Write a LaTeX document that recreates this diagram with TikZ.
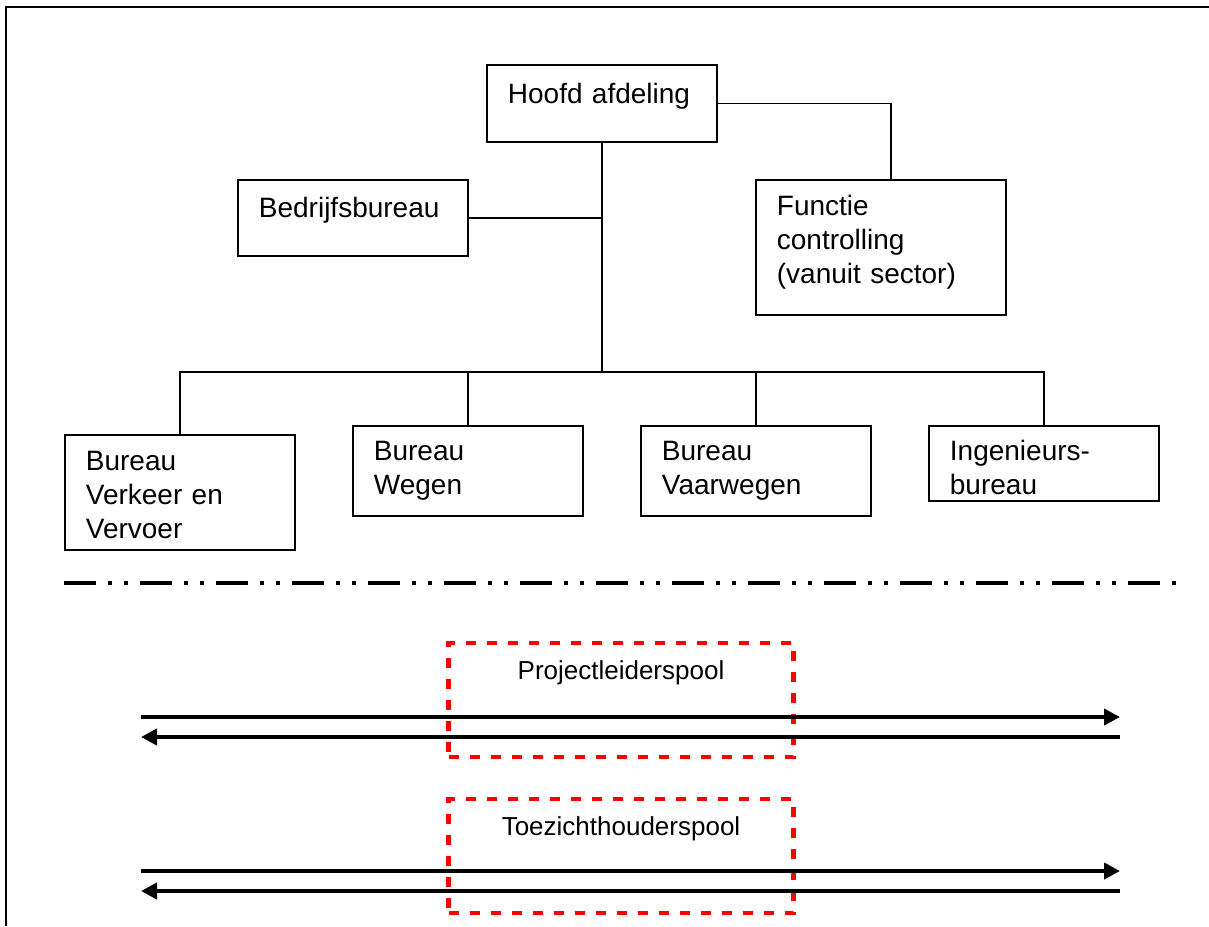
\documentclass[tikz,border=0pt]{standalone}
\usepackage{fontspec}
\setmainfont{Liberation Sans}
\usetikzlibrary{calc}
\usetikzlibrary{arrows.meta}

\begin{document}
\begin{tikzpicture}[x=0.5pt, y=-0.5pt]
\tikzstyle{box_org}=[draw=black, line width=0.9pt, anchor=north west, align=left, text width=94pt, inner xsep=10.5pt, inner ysep=0pt, font=\fontsize{14}{17}\selectfont]
\tikzstyle{box_pool}=[draw=red, line width=2.2pt, dash pattern=on 5pt off 5.5pt, anchor=north, align=center, minimum width=172.5pt, inner ysep=0pt, font=\fontsize{13}{16}\selectfont]
\tikzstyle{line_org}=[line width=0.8pt]
\tikzstyle{line_sep}=[line width=2.2pt, dash pattern=on 16pt off 6pt on 2pt off 6pt on 2pt off 6pt]
\tikzstyle{line_flow}=[line width=2pt, -{Triangle[length=8pt, width=8pt]}]

\useasboundingbox (0,0) rectangle (1209,926);
\draw[line width=1pt] (6,926) -- (6,7) -- (1209,7);

\path (486,64) node[box_org, text height=19.5pt, text depth=19pt](hoofd) {Hoofd afdeling}
	  (237,179) node[box_org, text height=19pt, text depth=19pt](bedrijf) {Bedrijfsbureau}
	  (755,179) node[box_org, text width=104pt, text height=18pt, text depth=49.5pt](functie) {Functie\\controlling\\(vanuit sector)}
	  (64,434) node[box_org, text height=18pt, text depth=39.5pt](verkeer) {Bureau\\Verkeer en\\Vervoer}
	  (352,425) node[box_org, text height=17.5pt, text depth=27.5pt](wegen) {Bureau\\Wegen}
	  (640,425) node[box_org, text height=17.5pt, text depth=27.5pt](vaarwegen) {Bureau\\Vaarwegen}
	  (928,425) node[box_org, text height=17.5pt, text depth=20pt](ingenieurs) {Ingenieurs-\\bureau};

\coordinate (bar) at (601,372);
\draw[line_org] (hoofd.south) -- (hoofd.south |- bar);
\draw[line_org] (verkeer.north) -- (verkeer.north |- bar) -- (ingenieurs.north |- bar) -- (ingenieurs.north);
\draw[line_org] (wegen.north) -- (wegen.north |- bar);
\draw[line_org] (vaarwegen.north) -- (vaarwegen.north |- bar);
\draw[line_org] (bedrijf.east) -- (bedrijf.east -| hoofd.south);
\draw[line_org] (hoofd.east) -| ([xshift=5pt]functie.north);

% scheiding lijn- en projectorganisatie
\coordinate (sep_w) at (64,583);
\coordinate (sep_e) at (1182,583);
\draw[line_sep] (sep_w) -- (sep_e);

\path (621,641) node[box_pool, text height=18pt, text depth=39pt](projpool) {Projectleiderspool}
	  (621,797) node[box_pool, text height=18pt, text depth=39pt](toezpool) {Toezichthouderspool};

\path (141,717) coordinate (pA_w) (1120,717) coordinate (pA_e)
	  (141,737) coordinate (pB_w) (1120,737) coordinate (pB_e)
	  (141,871) coordinate (tA_w) (1120,871) coordinate (tA_e)
	  (141,891) coordinate (tB_w) (1120,891) coordinate (tB_e);

\draw[line_flow] (pA_w) -- (pA_e);
\draw[line_flow] (pB_e) -- (pB_w);
\draw[line_flow] (tA_w) -- (tA_e);
\draw[line_flow] (tB_e) -- (tB_w);

\end{tikzpicture}
\end{document}
